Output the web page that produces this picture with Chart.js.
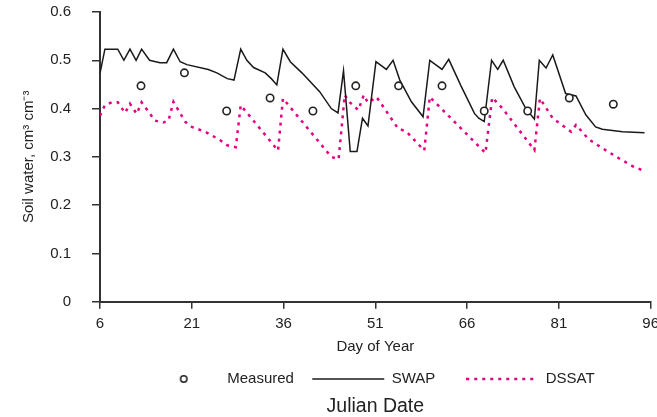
<!DOCTYPE html>
<html lang="en">
<head>
  <meta charset="UTF-8">
  <title>Soil water</title>
  <script src="https://cdn.jsdelivr.net/npm/chart.js"></script>
  <style>
    html, body { margin: 0; padding: 0; background: #fff; overflow: hidden; }
  </style>
</head>
<body>
  <canvas id="chart" width="665" height="417"></canvas>

  <script>
    // values
    const xTicks = [6, 21, 36, 51, 66, 81, 96];
    const yTicks = [0, 0.1, 0.2, 0.3, 0.4, 0.5, 0.6];

    const measDays = [12.7, 19.8, 26.7, 33.8, 40.8, 47.8, 54.8, 61.9, 68.8, 75.9, 82.7, 89.9];
    const measVals = [0.447, 0.474, 0.395, 0.422, 0.395, 0.447, 0.447, 0.447, 0.395, 0.395, 0.422, 0.409];

    const swapDays = [6.0, 6.8, 8.9, 9.9, 10.9, 11.9, 12.8, 14.1, 15.8, 16.9, 18.0, 19.1, 20.2, 23.7, 25.1, 26.8, 27.9,
      29.0, 30.0, 31.1, 33.0, 34.0, 34.9, 35.9, 37.1, 39.0, 41.9, 43.8, 44.9, 45.8, 46.9, 48.0, 48.9, 49.8,
      51.1, 52.8, 53.9, 55.0, 56.9, 58.8, 59.9, 61.9, 63.0, 65.0, 67.2, 67.9, 68.8, 70.0, 71.0, 71.9, 73.7,
      75.6, 77.0, 77.8, 78.9, 80.0, 82.1, 83.8, 85.4, 87.0, 88.1, 91.4, 95.0];
    const swapVals = [0.473, 0.523, 0.523, 0.50, 0.523, 0.50, 0.523, 0.50, 0.495, 0.495, 0.523, 0.497, 0.491, 0.481, 0.474, 0.462, 0.459,
      0.523, 0.50, 0.485, 0.474, 0.462, 0.449, 0.523, 0.497, 0.474, 0.435, 0.40, 0.391, 0.478, 0.311, 0.311, 0.38, 0.364,
      0.497, 0.481, 0.50, 0.459, 0.414, 0.383, 0.50, 0.481, 0.502, 0.447, 0.39, 0.38, 0.373, 0.50, 0.481, 0.50, 0.445,
      0.40, 0.378, 0.50, 0.484, 0.511, 0.431, 0.426, 0.387, 0.362, 0.357, 0.352, 0.35];

    const dssatDays = [6.0, 6.8, 7.9, 8.9, 10.1, 10.9, 12.0, 12.8, 15.0, 16.3, 17.2, 18.0, 19.9, 21.0, 23.2, 25.6, 26.8, 28.2,
      29.0, 35.1, 35.9, 43.8, 45.0, 46.0, 46.8, 48.2, 48.7, 49.1, 49.8, 51.2, 54.7, 56.1, 59.0, 59.9,
      69.0, 70.1, 71.8, 77.0, 77.9, 80.0, 83.0, 83.8, 85.9, 88.1, 90.8, 93.0, 95.2];
    const dssatVals = [0.385, 0.407, 0.413, 0.413, 0.391, 0.41, 0.389, 0.413, 0.375, 0.371, 0.375, 0.414, 0.373, 0.362, 0.352, 0.335, 0.324, 0.32,
      0.407, 0.313, 0.421, 0.30, 0.295, 0.428, 0.413, 0.397, 0.413, 0.428, 0.412, 0.424, 0.359, 0.352, 0.313, 0.424,
      0.308, 0.423, 0.40, 0.314, 0.421, 0.38, 0.352, 0.366, 0.336, 0.318, 0.297, 0.281, 0.269];

    const pts = (xs, ys) => xs.map((x, i) => ({ x: x, y: ys[i] }));

    const ink = '#222';
    const axisColor = '#333';
    const pink = '#e6007e';
    const font = { family: '"Liberation Sans", Arial, sans-serif', size: 15 };

    // legend icons: open circle and dotted line
    const circleIcon = document.createElement('canvas');
    circleIcon.width = 12;
    circleIcon.height = 12;
    let ic = circleIcon.getContext('2d');
    ic.lineWidth = 1.5;
    ic.strokeStyle = ink;
    ic.beginPath();
    ic.arc(6, 6, 3.2, 0, Math.PI * 2);
    ic.stroke();

    const dotIcon = document.createElement('canvas');
    dotIcon.width = 72;
    dotIcon.height = 6;
    ic = dotIcon.getContext('2d');
    ic.lineWidth = 2.5;
    ic.strokeStyle = pink;
    ic.setLineDash([3, 5]);
    ic.beginPath();
    ic.moveTo(0, 3);
    ic.lineTo(72, 3);
    ic.stroke();

    new Chart(document.getElementById('chart'), {
      type: 'line',
      data: {
        datasets: [
          {
            label: 'Measured',
            data: pts(measDays, measVals),
            showLine: false,
            pointStyle: 'circle',
            pointRadius: 3.7,
            pointBorderWidth: 1.6,
            pointBorderColor: ink,
            pointBackgroundColor: '#fff',
            borderColor: ink,
            backgroundColor: '#fff'
          },
          {
            label: 'SWAP',
            data: pts(swapDays, swapVals),
            borderColor: '#1a1a1a',
            borderWidth: 1.5,
            pointRadius: 0,
            pointStyle: 'line',
            tension: 0
          },
          {
            label: 'DSSAT',
            data: pts(dssatDays, dssatVals),
            borderColor: pink,
            borderWidth: 2.5,
            borderDash: [3, 5],
            pointRadius: 0,
            pointStyle: 'line',
            tension: 0
          }
        ]
      },
      options: {
        responsive: false,
        animation: false,
        layout: { padding: { top: 12, right: 0, bottom: 0, left: 0 } },
        scales: {
          x: {
            type: 'linear',
            min: 6,
            max: 96,
            afterBuildTicks: s => { s.ticks = xTicks.map(v => ({ value: v })); },
            afterFit: s => { s.height = 59.8; },
            ticks: { color: ink, font: font, padding: 6, maxRotation: 0 },
            grid: { drawOnChartArea: false, drawTicks: true, tickLength: 7, color: axisColor, lineWidth: 1.5 },
            border: { display: true, color: axisColor, width: 2 },
            title: { display: true, text: 'Day of Year', color: ink, font: font, padding: { top: 0, bottom: 5.5 } }
          },
          y: {
            min: 0,
            max: 0.6,
            afterBuildTicks: s => { s.ticks = yTicks.map(v => ({ value: v })); },
            afterFit: s => {
              s.width = 100;
              s.paddingTop = 0;
              s.paddingBottom = 0;
            },
            ticks: { color: ink, font: font, padding: 21 },
            grid: { drawOnChartArea: false, drawTicks: true, tickLength: 8, color: axisColor, lineWidth: 1.5 },
            border: { display: true, color: axisColor, width: 2 },
            title: { display: true, text: 'Soil water, cm\u00b3 cm\u207b\u00b3', color: ink, font: font, padding: { top: 19.5, bottom: 0 } }
          }
        },
        plugins: {
          tooltip: { enabled: false },
          legend: {
            position: 'bottom',
            fullSize: false,
            labels: {
              usePointStyle: true,
              pointStyleWidth: 72,
              padding: 10,
              color: ink,
              font: font,
              generateLabels: chart => {
                const items = Chart.defaults.plugins.legend.labels.generateLabels(chart);
                const extra = ['\u00a0\u00a0', '\u00a0\u00a0\u00a0\u00a0\u00a0', '\u00a0\u00a0'];
                const icons = [circleIcon, 'line', dotIcon];
                items.forEach((it, i) => {
                  it.text += extra[i];
                  it.pointStyle = icons[i];
                });
                return items;
              }
            }
          },
          title: {
            display: true,
            position: 'bottom',
            fullSize: false,
            text: 'Julian Date',
            color: ink,
            font: { family: font.family, size: 19.5, weight: 'normal', lineHeight: 1 },
            padding: { top: 0, bottom: 1 }
          }
        }
      }
    });
  </script>
</body>
</html>
